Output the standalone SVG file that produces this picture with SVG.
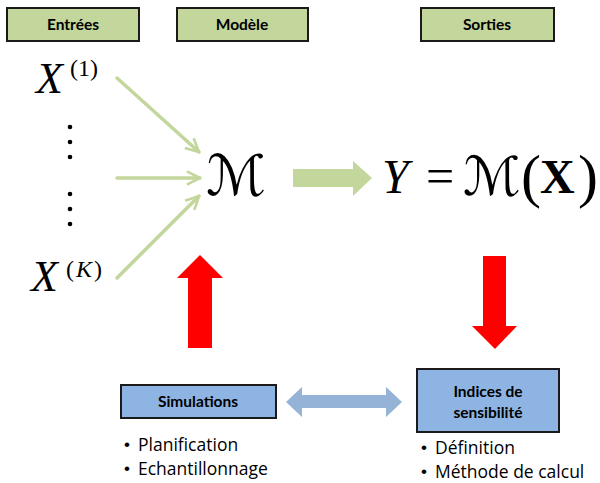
<svg xmlns="http://www.w3.org/2000/svg" width="600" height="483" viewBox="0 0 600 483">
  <style>
    .hdr { fill: #C3D69B; stroke: #1a1a1a; stroke-width: 2; }
    .blue { fill: #8EB4E3; stroke: #1a1a1a; stroke-width: 2; }
    .lbl { font-family: Lato, "Open Sans", "Liberation Sans", sans-serif; font-weight: bold; font-size: 15.5px; fill: #000; text-anchor: middle; }
    .math { font-family: "Liberation Serif", "DejaVu Serif", serif; fill: #000; }
    .cal { font-family: "DejaVu Serif", "DejaVu Sans", "Liberation Serif", serif; font-style: italic; fill: #000; }
    .bul { font-family: "Open Sans", Lato, "Liberation Sans", sans-serif; font-size: 17.5px; fill: #000; }
    .dot { font-family: "Liberation Sans", sans-serif; font-size: 17px; fill: #000; }
    .in { stroke: #C3D69B; stroke-width: 3.5; fill: none; stroke-linecap: round; }
  </style>
  <defs>
    <marker id="chev" viewBox="0 0 12 12" refX="11" refY="6" markerWidth="4.5" markerHeight="4.5" orient="auto" markerUnits="strokeWidth">
      <path d="M1,1 L11,6 L1,11" fill="none" stroke="#C3D69B" stroke-width="2" stroke-linejoin="miter"/>
    </marker>
  </defs>

  <!-- column headers -->
  <g id="entrees">
    <rect class="hdr" x="7" y="8" width="132" height="33"/>
    <text class="lbl" x="73" y="30">Entrées</text>
  </g>
  <g id="modele">
    <rect class="hdr" x="177" y="8" width="131" height="33"/>
    <text class="lbl" x="242" y="30">Modèle</text>
  </g>
  <g id="sorties">
    <rect class="hdr" x="421" y="8" width="133" height="33"/>
    <text class="lbl" x="487" y="30">Sorties</text>
  </g>

  <!-- inputs -->
  <g id="x1">
    <text class="math" x="36" y="93" font-size="44" font-style="italic">X</text>
    <text class="math" x="70" y="76" font-size="24">(1)</text>
  </g>
  <g id="dots">
    <circle cx="70" cy="127" r="2.3"/>
    <circle cx="70" cy="142" r="2.3"/>
    <circle cx="70" cy="157" r="2.3"/>
    <circle cx="70" cy="194" r="2.3"/>
    <circle cx="70" cy="209" r="2.3"/>
    <circle cx="70" cy="224" r="2.3"/>
  </g>
  <g id="xk">
    <text class="math" x="31" y="291" font-size="44" font-style="italic">X</text>
    <text class="math" x="66" y="277" font-size="24">(<tspan font-style="italic" dx="2">K</tspan><tspan dx="2">)</tspan></text>
  </g>

  <!-- model -->
  <g id="model">
    <text class="cal" x="206" y="195" font-size="56">ℳ</text>
  </g>

  <!-- output -->
  <g id="output">
    <text class="math" x="382" y="193" font-size="48" font-style="italic">Y</text>
    <text class="math" x="426" y="193" font-size="50">=</text>
    <text class="cal" x="463" y="195" font-size="54">ℳ</text>
    <text class="math" x="521" y="196" font-size="60">(</text>
    <text class="math" x="540" y="193" font-size="48" font-weight="bold">X</text>
    <text class="math" x="578" y="196" font-size="60">)</text>
  </g>

  <!-- lower boxes -->
  <g id="simulations">
    <rect class="blue" x="121" y="385" width="155" height="33"/>
    <text class="lbl" x="198" y="407">Simulations</text>
    <text class="dot" x="124" y="450">•</text>
    <text class="bul" x="138" y="451">Planification</text>
    <text class="dot" x="124" y="474">•</text>
    <text class="bul" x="138" y="475">Echantillonnage</text>
  </g>
  <g id="indices">
    <rect class="blue" x="417" y="369" width="142" height="63"/>
    <text class="lbl" x="488" y="397">Indices de</text>
    <text class="lbl" x="488" y="418">sensibilité</text>
    <text class="dot" x="421" y="453">•</text>
    <text class="bul" x="435" y="454">Définition</text>
    <text class="dot" x="421" y="477">•</text>
    <text class="bul" x="435" y="478">Méthode de calcul</text>
  </g>

  <!-- connectors -->
  <g id="connectors">
    <line class="in" x1="117" y1="78" x2="199" y2="152" marker-end="url(#chev)"/>
    <line class="in" x1="117" y1="178" x2="200" y2="178" marker-end="url(#chev)"/>
    <line class="in" x1="117" y1="278" x2="199" y2="196" marker-end="url(#chev)"/>
    <polygon fill="#C3D69B" points="293,169 353,169 353,161 372,178 353,196 353,187 293,187"/>
    <polygon fill="#FF0000" points="188,348 188,278 177,278 200,255 223,278 212,278 212,348"/>
    <polygon fill="#FF0000" points="483,256 506,256 506,326 517,326 495,349 472,326 483,326"/>
    <polygon fill="#95B3D7" points="286,402 302,387 302,395 386,395 386,387 402,402 386,417 386,408 302,408 302,417"/>
  </g>
</svg>
